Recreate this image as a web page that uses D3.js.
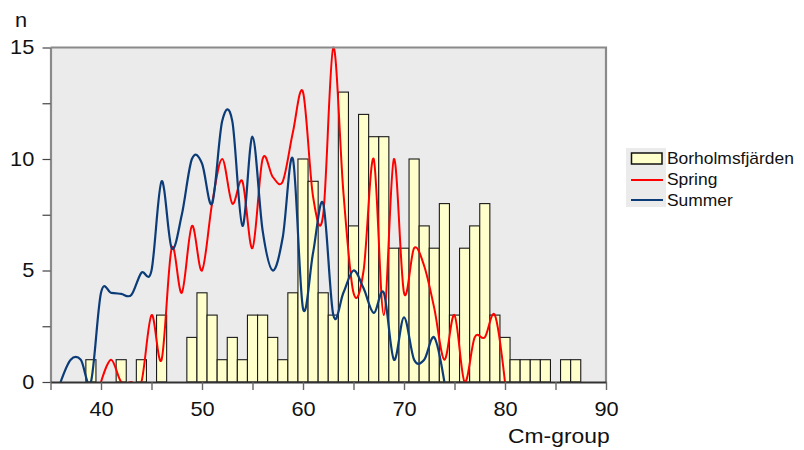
<!DOCTYPE html>
<html>
<head>
<meta charset="utf-8">
<script src="https://cdn.jsdelivr.net/npm/d3@7"></script>
<style>
  html, body { margin: 0; padding: 0; background: #ffffff; }
  svg { display: block; }
  text { font-family: "Liberation Sans", Arial, Helvetica, sans-serif; fill: #111; }
</style>
</head>
<body>
<svg id="chart" width="804" height="450"></svg>
<script>
// Length distribution: catch per 1-cm group plus smoothed spring and summer counts
const barCm = [39, 42, 44, 46, 49, 50, 51, 52, 53, 54, 55, 56, 57, 58, 59, 60, 61, 62, 63, 64,
               65, 66, 67, 68, 69, 70, 71, 72, 73, 74, 75, 76, 77, 78, 79, 80, 81, 82, 83, 84, 86, 87];
const barN  = [1, 1, 1, 3, 2, 4, 3, 1, 2, 1, 3, 3, 2, 1, 4, 10, 9, 4, 3, 13,
               7, 12, 11, 11, 6, 6, 10, 7, 6, 8, 3, 6, 7, 8, 3, 2, 1, 1, 1, 1, 1, 1];

const springCm = [40, 41, 42, 43, 44, 45, 46, 47, 48, 49, 50, 51, 52, 53, 54, 55, 56, 57, 58, 59,
                  60, 61, 62, 63, 64, 65, 66, 67, 68, 69, 70, 71, 72, 73, 74, 75, 76, 77, 78, 79, 80];
const springN  = [0, 1, 0, 0, 0, 3, 1, 6, 4, 7, 5, 8, 10, 8, 9, 6, 10, 9.2, 9, 11.2,
                  13, 8.3, 7.5, 15, 8.5, 4, 5, 10, 3, 10, 4, 6, 5.2, 3.3, 1, 3, 0, 2, 2, 3, 0];

const summerCm = [36, 37, 38, 39, 40, 41, 42, 43, 44, 45, 46, 47, 48, 49, 50, 51, 52, 53, 54, 55,
                  56, 57, 58, 59, 60, 61, 62, 63, 64, 65, 66, 67, 68, 69, 70, 71, 72, 73, 74];
const summerN  = [0, 1, 1, 0, 4.0, 4, 3.95, 3.9, 4.9, 5, 9, 6, 7.5, 10, 9.8, 8, 11.7, 11.7, 7, 11,
                  6.8, 5, 6.5, 10, 3.3, 5.8, 8, 3, 4, 5, 4.2, 3.1, 4, 1, 2.9, 1, 1, 2, 0];

const xTicks = [35, 40, 45, 50, 55, 60, 65, 70, 75, 80, 85, 90];
const xLabelTicks = [40, 50, 60, 70, 80, 90];
const yTicks = [0, 2.5, 5, 7.5, 10, 12.5, 15];
const yLabelTicks = [0, 5, 10, 15];

const legendLabels = ["Borholmsfjärden", "Spring", "Summer"];
const xTitle = "Cm-group";
const yTitle = "n";

// Styling
const colors = { bar: "#ffffcc", spring: "#ff0000", summer: "#0b3c78", plotBg: "#ebebeb", frame: "#8a8a8a" };
const plot = { left: 50.5, right: 606, top: 47.5, bottom: 382 };
const textStretch = 1.09;

const svg = d3.select("#chart");

const x = d3.scaleLinear().domain([35, 90]).range([plot.left, plot.right]);
const y = d3.scaleLinear().domain([0, 15]).range([plot.bottom, plot.top]);

// Plot background
svg.append("rect")
  .attr("x", plot.left).attr("y", plot.top)
  .attr("width", plot.right - plot.left).attr("height", plot.bottom - plot.top)
  .attr("fill", colors.plotBg);

svg.append("clipPath").attr("id", "plotClip")
  .append("rect")
  .attr("x", plot.left).attr("y", plot.top - 2)
  .attr("width", plot.right - plot.left).attr("height", plot.bottom - plot.top + 2);

// Histogram bars, one per cm group
const bars = barCm.map((c, i) => ({ c, n: barN[i] }));
svg.append("g").selectAll("rect").data(bars).join("rect")
  .attr("x", d => x(d.c - 0.5))
  .attr("y", d => y(d.n))
  .attr("width", d => x(d.c + 0.5) - x(d.c - 0.5))
  .attr("height", d => y(0) - y(d.n))
  .attr("fill", colors.bar)
  .attr("stroke", "#1a1a1a")
  .attr("stroke-width", 1.1);

// Smoothed seasonal curves
const line = d3.line()
  .x(d => x(d[0]))
  .y(d => y(d[1]))
  .curve(d3.curveCatmullRom.alpha(0));

const curves = svg.append("g").attr("clip-path", "url(#plotClip)");
curves.append("path")
  .datum(springCm.map((c, i) => [c, springN[i]]))
  .attr("d", line)
  .attr("fill", "none")
  .attr("stroke", colors.spring)
  .attr("stroke-width", 2);
curves.append("path")
  .datum(summerCm.map((c, i) => [c, summerN[i]]))
  .attr("d", line)
  .attr("fill", "none")
  .attr("stroke", colors.summer)
  .attr("stroke-width", 2.2);

// Frame: top and right edges
svg.append("path")
  .attr("d", `M${plot.left},${plot.top}H${plot.right}V${plot.bottom}`)
  .attr("fill", "none")
  .attr("stroke", colors.frame)
  .attr("stroke-width", 2.2);

// Y axis
const yAxis = svg.append("g")
  .attr("transform", `translate(${plot.left},0)`)
  .call(d3.axisLeft(y).tickValues(yTicks).tickSize(8).tickSizeOuter(0)
    .tickFormat(d => yLabelTicks.includes(d) ? d3.format("d")(d) : ""));
yAxis.select(".domain").attr("stroke", colors.frame).attr("stroke-width", 2.2);
yAxis.selectAll(".tick line").attr("stroke", "#444").attr("stroke-width", 1.2);
yAxis.selectAll(".tick text")
  .attr("x", -14.9).attr("dy", "0.32em")
  .attr("transform", `scale(${textStretch},1)`)
  .style("font-size", "20px").attr("fill", "#111");

// X axis
const xAxis = svg.append("g")
  .attr("transform", `translate(0,${plot.bottom})`)
  .call(d3.axisBottom(x).tickValues(xTicks).tickSize(8).tickSizeOuter(0)
    .tickFormat(d => xLabelTicks.includes(d) ? d3.format("d")(d) : ""));
xAxis.select(".domain").attr("stroke", "#333").attr("stroke-width", 2);
xAxis.selectAll(".tick line").attr("stroke", "#666").attr("stroke-width", 1.4);
xAxis.selectAll(".tick text")
  .attr("y", 34.5).attr("dy", "0")
  .attr("transform", `scale(${textStretch},1)`)
  .style("font-size", "20px").attr("fill", "#111");

// Axis titles
svg.append("text")
  .attr("transform", `translate(15,26.5) scale(${textStretch},1)`)
  .style("font-size", "20px")
  .text(yTitle);
svg.append("text")
  .attr("transform", `translate(508,443) scale(${textStretch},1)`)
  .style("font-size", "21px")
  .text(xTitle);

// Legend
const legend = svg.append("g");
legend.append("rect")
  .attr("x", 626).attr("y", 148).attr("width", 40).attr("height", 59)
  .attr("fill", colors.plotBg);
legend.append("rect")
  .attr("x", 631.5).attr("y", 153).attr("width", 30.5).attr("height", 11)
  .attr("fill", colors.bar).attr("stroke", "#111").attr("stroke-width", 1.5);
legend.append("line")
  .attr("x1", 631).attr("x2", 663).attr("y1", 180).attr("y2", 180)
  .attr("stroke", colors.spring).attr("stroke-width", 2);
legend.append("line")
  .attr("x1", 631).attr("x2", 663).attr("y1", 200).attr("y2", 200)
  .attr("stroke", colors.summer).attr("stroke-width", 2);
const legendBaselines = [163.5, 185, 205.5];
legend.selectAll("text.lbl").data(legendLabels).join("text")
  .attr("class", "lbl")
  .attr("transform", (d, i) => `translate(667,${legendBaselines[i]}) scale(${textStretch},1)`)
  .style("font-size", "16px")
  .text(d => d);
</script>
</body>
</html>
